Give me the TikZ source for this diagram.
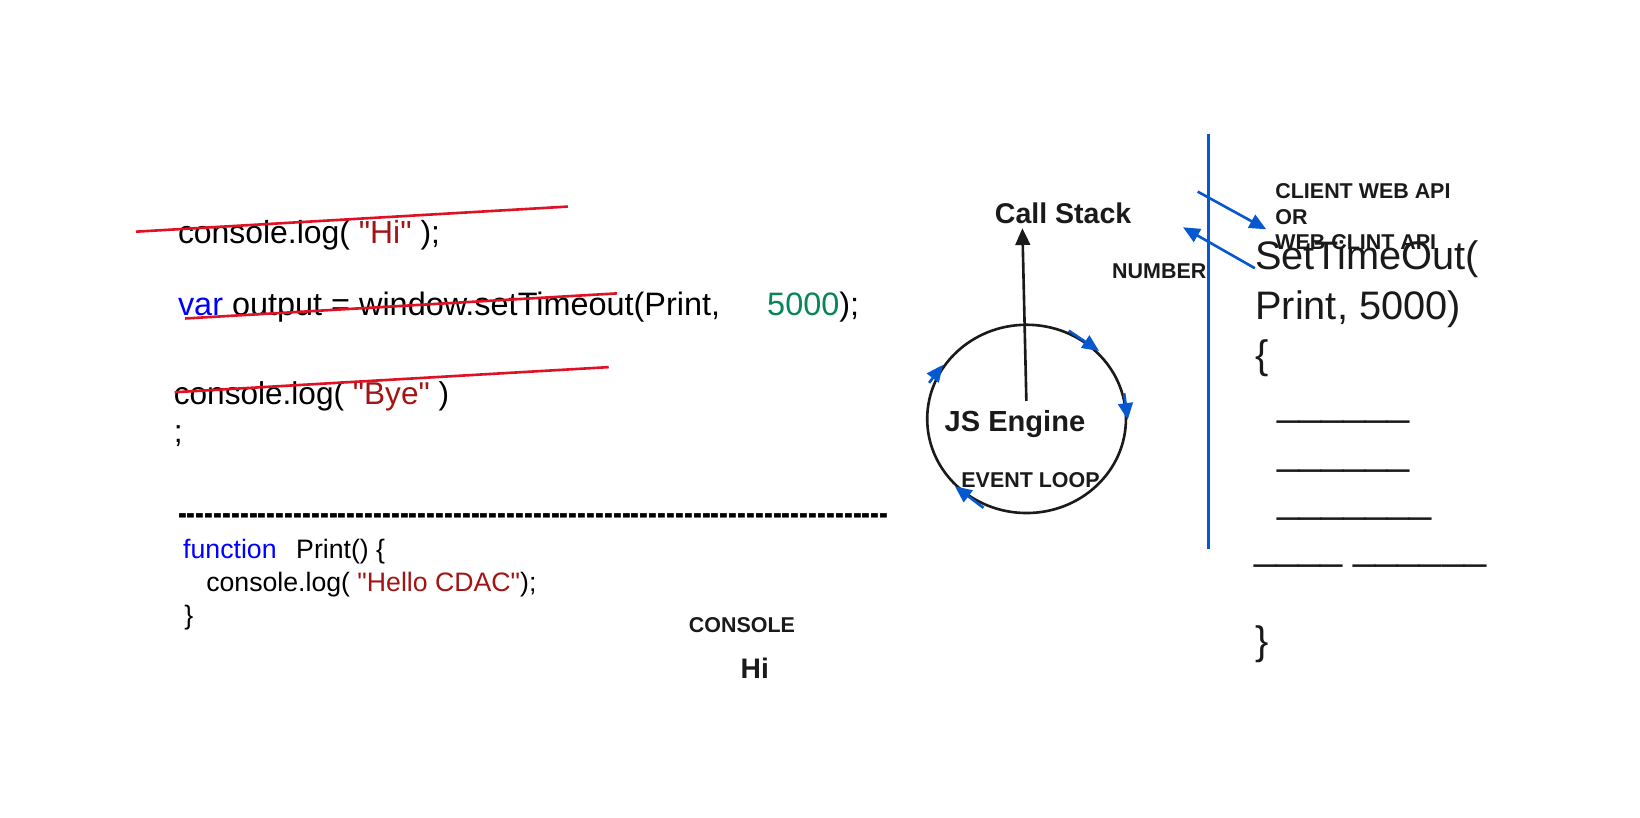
\documentclass[tikz,border=0pt]{standalone}
\usepackage{fontspec}
\usepackage{graphicx}
\newfontfamily\lsans{Liberation Sans}
\usetikzlibrary{arrows.meta,shapes.geometric}
\definecolor{kw}{RGB}{0,0,255}
\definecolor{strcol}{RGB}{163,21,21}
\definecolor{numcol}{RGB}{9,134,88}
\definecolor{strikecol}{RGB}{222,18,36}
\definecolor{apiblue}{RGB}{5,88,208}
\definecolor{ink}{RGB}{26,26,26}
\def\hyten{\hbox{-}\hbox{-}\hbox{-}\hbox{-}\hbox{-}\hbox{-}\hbox{-}\hbox{-}\hbox{-}\hbox{-}}
\begin{document}
\begin{tikzpicture}[x=1pt,y=-1pt,
  code/.style={anchor=base west, inner sep=0pt, font=\lsans\fontsize{30.5}{36}\selectfont},
  fcode/.style={anchor=base west, inner sep=0pt, font=\lsans\fontsize{25.5}{31}\selectfont},
  lbl/.style={anchor=base west, inner sep=0pt, text=ink, font=\lsans\fontsize{20.5}{24.6}\selectfont\bfseries},
  biglbl/.style={anchor=base west, inner sep=0pt, text=ink, font=\lsans\fontsize{27.5}{33}\selectfont\bfseries},
  bigcode/.style={anchor=base west, inner sep=0pt, text=ink, font=\lsans\fontsize{38}{46}\selectfont},
  strikeout/.style={draw=strikecol, line width=2.5pt},
  bluearrow/.style={draw=apiblue, line width=2.5pt, -{Triangle[length=16pt,width=14pt]}, fill=apiblue},
  blackarrow/.style={draw=ink, line width=2.5pt, -{Triangle[length=16pt,width=14pt]}, fill=ink},
]
\useasboundingbox[fill=white] (0,0) rectangle (1568,782);

% ---- code block ----
\node[code] (c1) at (170,232.5) {console.log( {\color{strcol}"Hi"} );};
\node[code, font=\lsans\fontsize{31}{37}\selectfont] (c2) at (170,301.5) {{\color{kw}var} output = window.setTimeout(Print,\hspace{45pt}{\color{numcol}5000});};
\node[code, font=\lsans\fontsize{30.2}{36}\selectfont] (c3) at (166,387) {console.log( {\color{strcol}"Bye"} )};
\node[code] (c3s) at (166,423) {;};

\draw[strikeout] (130,221.5) -- (543,197.5);
\draw[strikeout] (177,304.5) -- (590,280.5);
\draw[strikeout] (167,375) -- (582,351);

\node[anchor=base west, inner sep=0pt, font=\lsans\fontsize{25.5}{31}\selectfont\bfseries] (sep) at (170,502.5) {\scalebox{1}[1.4]{\hyten\hyten\hyten\hyten\hyten\hyten\hyten\hyten}};

\node[fcode] (f1) at (175,534) {{\color{kw}function}\hspace{18.7pt}Print() \{};
\node[fcode] (f2) at (197,565.5) {console.log( {\color{strcol}"Hello CDAC"});};
\node[fcode] (f3) at (176,597) {\}};

\node[lbl] (console) at (658.5,604.5) {CONSOLE};
\node[anchor=base west, inner sep=0pt, text=ink, font=\lsans\fontsize{27}{32}\selectfont\bfseries] (hi) at (708,648.5) {Hi};

% ---- engine ----
\node[biglbl, font=\lsans\fontsize{27.3}{33}\selectfont\bfseries] (callstack) at (951,213.8) {Call Stack};
\node[draw=ink, line width=2.5pt, ellipse, minimum width=190pt, minimum height=180pt, inner sep=0pt] (loop) at (981.5,400.5) {};
\node[biglbl, font=\lsans\fontsize{27.8}{33}\selectfont\bfseries] (jsengine) at (903,412.5) {JS Engine};
\node[lbl] (eventloop) at (919,465.7) {EVENT LOOP};

\coordinate (jsOut) at (981.3,383.2);
\coordinate (csIn) at (977.5,218.2);
\draw[blackarrow] (jsOut) -- (csIn);

\coordinate (a1s) at (1021.9,316.2);
\coordinate (a1e) at (1050.8,335.5);
\coordinate (a2s) at (1074.8,376);
\coordinate (a2e) at (1078.2,401.4);
\coordinate (a3s) at (888.3,366);
\coordinate (a3e) at (901.5,348.8);
\coordinate (a4s) at (940.3,485.5);
\coordinate (a4e) at (913,465);
\draw[bluearrow] (a1s) -- (a1e);
\draw[bluearrow] (a2s) -- (a2e);
\draw[bluearrow] (a3s) -- (a3e);
\draw[bluearrow] (a4s) -- (a4e);

% ---- web api ----
\coordinate (vtop) at (1155.5,128);
\coordinate (vbot) at (1155.5,525);
\draw[apiblue, line width=2.5pt] (vtop) -- (vbot);

\node[lbl] (number) at (1063.2,266) {NUMBER};
\node[lbl] (api1) at (1219.2,189.6) {CLIENT WEB API};
\node[lbl] (api2) at (1219.2,214.3) {OR};
\node[lbl] (api3) at (1219.2,238.9) {WEB CLINT API};

\coordinate (b1s) at (1145.1,183.2);
\coordinate (b1e) at (1210.6,219.2);
\coordinate (b2s) at (1199.7,256.4);
\coordinate (b2e) at (1131.1,217.3);
\draw[bluearrow] (b1s) -- (b1e);
\draw[bluearrow] (b2s) -- (b2e);

\node[bigcode] (r1) at (1200,258) {SetTimeOut(};
\node[bigcode] (r2) at (1200,305) {Print, 5000)};
\node[bigcode] (r3) at (1200,352) {\{};
\node[bigcode] (r4) at (1221,397.7) {\_\_\_\_\_\_};
\node[bigcode] (r5) at (1221,443.8) {\_\_\_\_\_\_};
\node[bigcode] (r6) at (1221,489.7) {\_\_\_\_\_\_\_};
\node[bigcode] (r7) at (1199,534.6) {\_\_\_\_ \_\_\_\_\_\_};
\node[bigcode] (r8) at (1200,626) {\}};
\end{tikzpicture}
\end{document}
